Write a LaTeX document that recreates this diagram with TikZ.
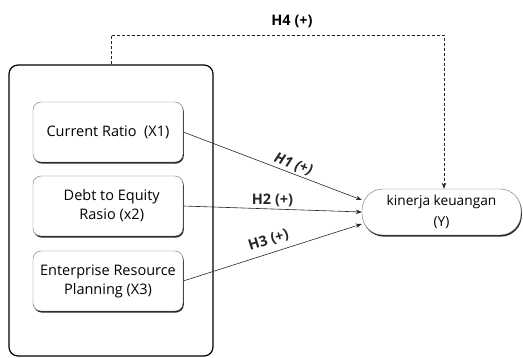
\documentclass[tikz,border=0pt]{standalone}
\usepackage{fontspec}
\setmainfont{Open Sans}
\usetikzlibrary{arrows.meta,shadows}

\tikzset{
    varbox/.style={draw=black!55, fill=white, rounded corners=8pt, align=center,
        minimum width=150pt, minimum height=60pt, font=\fontsize{14.5}{19}\selectfont,
        drop shadow={opacity=1, fill=black!85, shadow xshift=0.8pt, shadow yshift=-1.6pt}},
    hyp/.style={font=\bfseries\fontsize{14.5}{16}\selectfont, inner sep=2pt},
    link/.style={-{Stealth[length=6pt,width=4.5pt]}, semithick, black!85}
}

\begin{document}
\begin{tikzpicture}[x=1pt,y=-1pt]
    \useasboundingbox (0,0) rectangle (523,358);
    % Group of independent variables
    \node[draw, very thick, rounded corners=9pt, minimum width=204pt, minimum height=291pt] (group) at (111,210.5) {};
    \node[varbox] (x1) at (108,132) {Current Ratio\ \ (X1)};
    \node[varbox] (x2) at (108,206) {\ \ Debt to Equity\\\ \ Rasio (x2)};
    \node[varbox] (x3) at (108,281) {Enterprise Resource\\Planning (X3)};
    % Dependent variable
    \node[draw=black!55, fill=white, rounded corners=21pt, minimum width=159pt, minimum height=46pt,
        align=center, font=\fontsize{13.7}{21}\selectfont,
        drop shadow={opacity=1, fill=black!85, shadow xshift=0.8pt, shadow yshift=-1.6pt}]
        (y) at (441.5,212) {kinerja keuangan\\(Y)};
    % Hypotheses
    \draw[link] (x1.east) -- node[hyp, sloped, above, pos=0.6] (h1) {\itshape H1 (+)} ([yshift=12pt]y.west);
    \draw[link] (x2.east) -- node[hyp, above, pos=0.5] (h2) {H2 (+)} (y.west);
    \draw[link] (x3.east) -- node[hyp, sloped, above=4pt, pos=0.5] (h3) {H3 (+)} ([yshift=-12pt]y.west);
    % Simultaneous effect
    \coordinate (corner) at (444,35);
    \draw[link, densely dashed, thick] (group.north) |- (corner) -- (corner |- y.north);
    \node[hyp] (h4) at (292,21) {H4 (+)};
\end{tikzpicture}
\end{document}
